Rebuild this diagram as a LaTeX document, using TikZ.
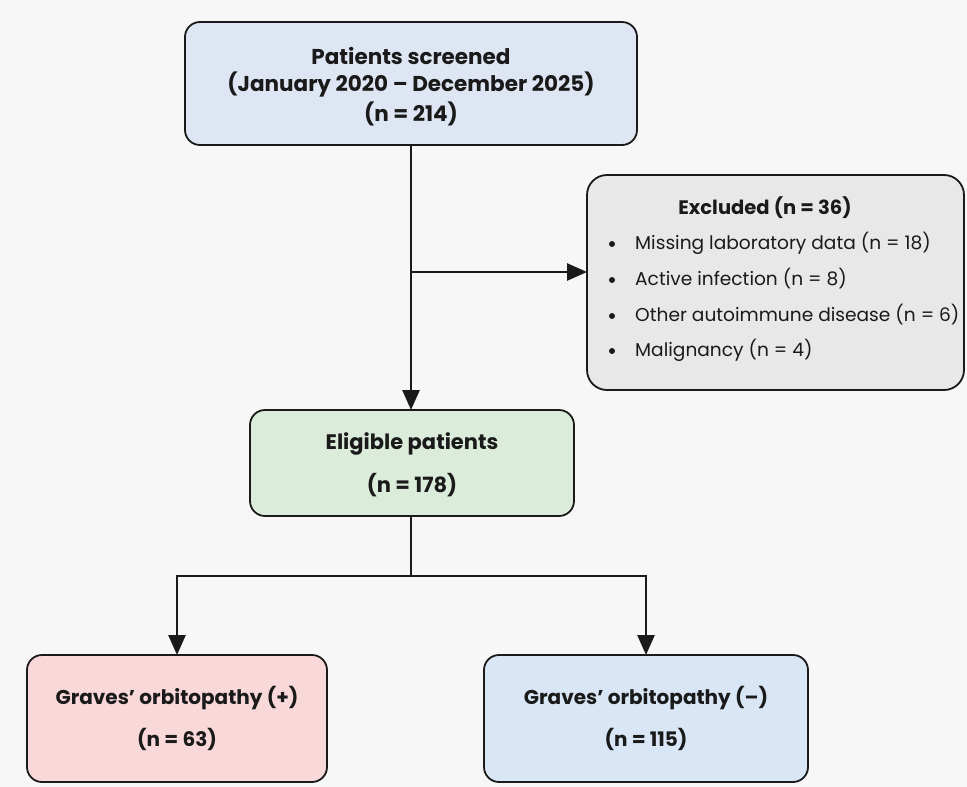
\documentclass[tikz,border=0pt]{standalone}
\usepackage{fontspec}
\setmainfont{Poppins}
\usetikzlibrary{arrows.meta}
\definecolor{bgc}{HTML}{F7F7F7}
\definecolor{topc}{HTML}{DDE6F2}
\definecolor{excc}{HTML}{E8E8E8}
\definecolor{eligc}{HTML}{DCECDA}
\definecolor{posc}{HTML}{F9D8D9}
\definecolor{negc}{HTML}{D8E6F6}
\definecolor{ink}{HTML}{1A1A1A}
\begin{document}
\begin{tikzpicture}[x=1pt,y=-1pt,
  box/.style={draw=ink, line width=1.8pt, rounded corners=15pt, inner sep=0pt, outer sep=0pt},
  lbl/.style={font=\fontsize{21}{24}\selectfont\bfseries, text=ink, anchor=center, inner sep=0pt},
  itemtxt/.style={font=\fontsize{18.6}{22}\selectfont, text=ink, anchor=west, inner sep=0pt},
  bul/.style={circle, fill=ink, minimum size=6pt, inner sep=0pt},
  conn/.style={line width=2.6pt, draw=ink},
  arr/.style={conn, -{Triangle[length=20pt,width=17pt]}}]
\useasboundingbox (0,0) rectangle (967,787);
\fill[bgc] (0,0) rectangle (967,787);
% boxes
\node[box, fill=topc, minimum width=452pt, minimum height=123pt] (top) at (411,83.5) {};
\node[box, fill=excc, rounded corners=20pt, minimum width=377pt, minimum height=215pt] (exc) at (775.5,282.5) {};
\node[box, fill=eligc, minimum width=324pt, minimum height=106pt] (elig) at (412,463) {};
\node[box, fill=posc, minimum width=300pt, minimum height=127pt] (pos) at (177,718.5) {};
\node[box, fill=negc, minimum width=324pt, minimum height=127pt] (neg) at (646,718.5) {};
% texts
\node[lbl, font=\fontsize{21.5}{24}\selectfont\bfseries] (t1) at (411,56) {Patients screened};
\node[lbl, font=\fontsize{21.5}{24}\selectfont\bfseries] (t2) at (411,85) {(January 2020 – December 2025)};
\node[lbl, font=\fontsize{21.5}{24}\selectfont\bfseries] (t3) at (411,114) {(n = 214)};
\node[lbl, font=\fontsize{19.5}{22}\selectfont\bfseries] (e0) at (765,208) {Excluded (n = 36)};
\node[bul] (b1) at (612,244) {};
\node[itemtxt] (e1) at (635,243) {Missing laboratory data (n = 18)};
\node[bul] (b2) at (612,280) {};
\node[itemtxt] (e2) at (635,279) {Active infection (n = 8)};
\node[bul] (b3) at (612,316) {};
\node[itemtxt] (e3) at (635,315) {Other autoimmune disease (n = 6)};
\node[bul] (b4) at (612,351) {};
\node[itemtxt] (e4) at (635,350) {Malignancy (n = 4)};
\node[lbl] (g1) at (412,444) {Eligible patients};
\node[lbl] (g2) at (412,485) {(n = 178)};
\node[lbl, font=\fontsize{20}{24}\selectfont\bfseries] (p1) at (177,698) {Graves’ orbitopathy (+)};
\node[lbl, font=\fontsize{20}{24}\selectfont\bfseries] (p2) at (177,739) {(n = 63)};
\node[lbl, font=\fontsize{20}{24}\selectfont\bfseries] (n1) at (646,698) {Graves’ orbitopathy (–)};
\node[lbl, font=\fontsize{20}{24}\selectfont\bfseries] (n2) at (646,739) {(n = 115)};
% connectors
\coordinate (br) at (411,272);
\coordinate (sp) at (411,576);
\draw[arr] (top.south) -- (top.south |- elig.north);
\draw[arr] (br) -- (br -| exc.west);
\draw[conn] (elig.south -| sp) -- (sp);
\draw[arr] (sp) -| (pos.north);
\draw[arr] (sp) -| (neg.north);
\end{tikzpicture}
\end{document}
